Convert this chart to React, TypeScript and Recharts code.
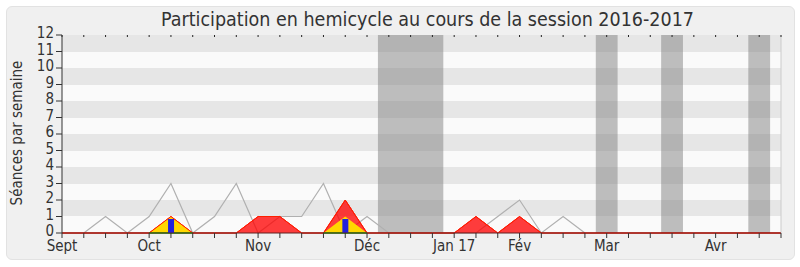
import {
  ComposedChart,
  Area,
  Bar,
  XAxis,
  YAxis,
  CartesianGrid,
  ReferenceArea,
  ReferenceLine,
} from "recharts";

// one entry per week of the session, week 0 = start of September
const weeks = [
  0, 1, 2, 3, 4, 5, 6, 7, 8, 9, 10, 11, 12, 13, 14, 15, 16,
  17, 18, 19, 20, 21, 22, 23, 24, 25, 26, 27, 28, 29, 30, 31, 32, 33,
];

// total seances per week (grey line)
const totalSeances = [
  null, 0, 1, 0, 1, 3, 0, 1, 3, 0, 1, 1, 3, 0, 1, 0, 0,
  0, 0, 0, 1, 2, 0, 1, 0, null, null, null, null, null, null, null, null, null,
];
// presences (red)
const presences = [
  0, 0, 0, 0, 0, 1, 0, 0, 0, 1, 1, 0, 0, 2, 0, 0, 0,
  0, 0, 1, 0, 1, 0, 0, 0, 0, 0, 0, 0, 0, 0, 0, 0, 0,
];
// interventions (yellow)
const interventions = [
  0, 0, 0, 0, 0, 1, 0, 0, 0, 0, 0, 0, 0, 1, 0, 0, 0,
  0, 0, 0, 0, 0, 0, 0, 0, 0, 0, 0, 0, 0, 0, 0, 0, 0,
];
// green baseline under the yellow peaks
const amendements = [
  null, null, null, null, 0, 0, 0, null, null, null, null, null, 0, 0, 0, null, null,
  null, null, null, null, null, null, null, null, null, null, null, null, null, null, null, null, null,
];
// questions (blue bars)
const questions = [
  null, null, null, null, null, 0.85, null, null, null, null, null, null, null, 0.85, null, null, null,
  null, null, null, null, null, null, null, null, null, null, null, null, null, null, null, null, null,
];

const monthTicks = [0, 4, 9, 14, 18, 21, 25, 30];
const monthLabels = ["Sept", "Oct", "Nov", "Déc", "Jan 17", "Fév", "Mar", "Avr"];

const yTicks = [0, 1, 2, 3, 4, 5, 6, 7, 8, 9, 10, 11, 12];

// parliamentary holidays (first and last week)
const vacationStart = [15, 25, 28, 32];
const vacationEnd = [17, 25, 28, 32];

const data = weeks.map((w, i) => ({
  w,
  total: totalSeances[i],
  red: presences[i],
  yellow: interventions[i],
  green: amendements[i],
  blue: questions[i],
}));

const font = "'DejaVu Sans Condensed', 'Liberation Sans', sans-serif";
const textColor = "#333";

function weekLabel(w: number) {
  const idx = monthTicks.indexOf(w);
  return idx >= 0 ? monthLabels[idx] : "";
}

export default function App() {
  return (
    <div style={{ position: "relative", width: 800, height: 267, background: "#fff", fontFamily: font }}>
      <style>{`body{margin:0}`}</style>
      <div
        style={{
          position: "absolute",
          left: 6,
          top: 6,
          width: 787,
          height: 252,
          background: "#f0f0f0",
          border: "1px solid #e2e2e2",
          borderRadius: 6,
        }}
      />
      <div
        style={{
          position: "absolute",
          left: 0,
          top: 10,
          width: 855,
          textAlign: "center",
          fontSize: 19.5,
          lineHeight: "20px",
          color: textColor,
          whiteSpace: "nowrap",
        }}
      >
        Participation en hemicycle au cours de la session 2016-2017
      </div>
      <div
        style={{
          position: "absolute",
          left: 17,
          top: 133,
          transform: "translate(-50%, -50%) rotate(-90deg)",
          fontSize: 15,
          color: textColor,
          whiteSpace: "nowrap",
        }}
      >
        Séances par semaine
      </div>
      <div style={{ position: "absolute", left: 0, top: 0 }}>
        <ComposedChart
          width={800}
          height={267}
          data={data}
          margin={{ top: 35, right: 19, left: 8, bottom: 4 }}
        >
          <CartesianGrid
            vertical={false}
            stroke="none"
            horizontalFill={["#e6e6e6", "#fafafa"]}
            fillOpacity={1}
          />
          <XAxis
            type="number"
            dataKey="w"
            domain={[0, 33]}
            ticks={weeks}
            interval={0}
            height={30}
            tickFormatter={weekLabel}
            tickSize={5}
            tickMargin={2}
            tick={{ fill: textColor, fontSize: 15, fontFamily: font }}
            tickLine={{ stroke: "#333" }}
            axisLine={{ stroke: "#602020" }}
          />
          <XAxis
            xAxisId="top"
            orientation="top"
            type="number"
            dataKey="w"
            domain={[0, 33]}
            ticks={weeks}
            interval={0}
            mirror
            tickSize={2}
            tickFormatter={() => ""}
            tickLine={{ stroke: "#222" }}
            axisLine={false}
          />
          <YAxis
            type="number"
            domain={[0, 12]}
            ticks={yTicks}
            interval={0}
            width={54}
            tickSize={6}
            tickMargin={2}
            tick={{ fill: textColor, fontSize: 15, fontFamily: font, dy: -2 }}
            tickLine={{ stroke: "#333" }}
            axisLine={{ stroke: "#333" }}
          />
          {vacationStart.map((s, i) => (
            <ReferenceArea
              key={i}
              x1={s - 0.5}
              x2={vacationEnd[i] + 0.5}
              y1={0}
              y2={12}
              fill="#808080"
              fillOpacity={0.5}
              stroke="none"
            />
          ))}
          <ReferenceLine x={33} stroke="#cccccc" />
          <Area
            type="linear"
            dataKey="total"
            stroke="#b0b0b0"
            strokeWidth={1.2}
            fill="none"
            dot={false}
            activeDot={false}
            isAnimationActive={false}
          />
          <Area
            type="linear"
            dataKey="red"
            stroke="#ff0000"
            strokeWidth={1}
            fill="#ff0000"
            fillOpacity={0.76}
            dot={false}
            activeDot={false}
            isAnimationActive={false}
          />
          <Area
            type="linear"
            dataKey="yellow"
            stroke="none"
            fill="#ffd700"
            fillOpacity={1}
            dot={false}
            activeDot={false}
            isAnimationActive={false}
          />
          <Area
            type="linear"
            dataKey="red"
            stroke="#ff2000"
            strokeWidth={1}
            fill="none"
            dot={false}
            activeDot={false}
            isAnimationActive={false}
          />
          <Area
            type="linear"
            dataKey="green"
            stroke="#00b000"
            strokeWidth={1.5}
            fill="none"
            dot={false}
            activeDot={false}
            isAnimationActive={false}
          />
          <Bar dataKey="blue" barSize={6} fill="#2222dd" isAnimationActive={false} />
        </ComposedChart>
      </div>
    </div>
  );
}
